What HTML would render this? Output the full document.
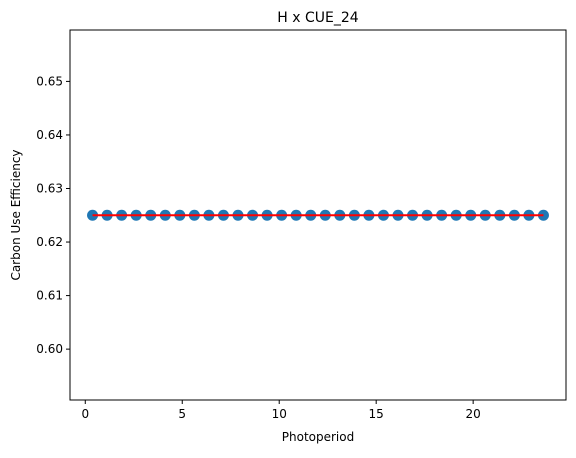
<!DOCTYPE html>
<html><head><meta charset="utf-8"><style>
body{margin:0;background:#fff;}
svg text{font-family:"DejaVu Sans","Liberation Sans",sans-serif;fill:#000;}
</style></head><body>
<svg width="576" height="453">
<g id="plot"></g>
</svg>
<script>
const xValues = [];
for (let i = 0; i < 32; i++) xValues.push(0.375 + 0.75 * i);
const yValues = [0.625,0.625,0.625,0.625,0.625,0.625,0.625,0.625,0.625,0.625,0.625,0.625,0.625,0.625,0.625,0.625,0.625,0.625,0.625,0.625,0.625,0.625,0.625,0.625,0.625,0.625,0.625,0.625,0.625,0.625,0.625,0.625];
const xTicks = [0,5,10,15,20];
const yTicks = [0.60,0.61,0.62,0.63,0.64,0.65];
const yTickLabels = ["0.60","0.61","0.62","0.63","0.64","0.65"];
const L=70,R=566,T=30,B=400;
const xmin=-0.7875,xmax=24.7875,ymin=0.5905,ymax=0.6596;
const sx=v=>L+(v-xmin)/(xmax-xmin)*(R-L);
const sy=v=>B-(v-ymin)/(ymax-ymin)*(B-T);
const NS="http://www.w3.org/2000/svg";
const g=document.getElementById('plot');
function mk(tag,attrs,parent){const e=document.createElementNS(NS,tag);for(const k in attrs)e.setAttribute(k,attrs[k]);(parent||g).appendChild(e);return e;}
let t=mk('text',{x:(L+R)/2,y:22,'text-anchor':'middle','font-size':'14'});t.textContent='H x CUE_24';


const pts=mk('g',{});


xValues.forEach((x,i)=>{const c=mk('circle',{cx:sx(x),cy:sy(yValues[i]),r:5.5,fill:'#1f77b4'},pts);

});
const ln=mk('line',{x1:sx(xValues[0]),y1:sy(yValues[0]),x2:sx(xValues[xValues.length-1]),y2:sy(yValues[yValues.length-1]),stroke:'#ff0000','stroke-width':2});


const fr=mk('rect',{x:L,y:T,width:R-L,height:B-T,fill:'none',stroke:'#000','stroke-width':1});


xTicks.forEach(v=>{const x=sx(v);mk('line',{x1:x,y1:B,x2:x,y2:B+4,stroke:'#000'});
const tx=mk('text',{x:x,y:B+18,'text-anchor':'middle','font-size':'12'});tx.textContent=v;

});
yTicks.forEach((v,i)=>{const y=sy(v);mk('line',{x1:L-4,y1:y,x2:L,y2:y,stroke:'#000'});
const tx=mk('text',{x:L-7,y:y+4,'text-anchor':'end','font-size':'12'});tx.textContent=yTickLabels[i];

});
const xl=mk('text',{x:(L+R)/2,y:441,'text-anchor':'middle','font-size':'12'});xl.textContent='Photoperiod';


const yl=mk('text',{x:0,y:0,'text-anchor':'middle','font-size':'12',transform:'translate(20,'+((T+B)/2)+') rotate(-90)'});yl.textContent='Carbon Use Efficiency';


</script>
</body></html>
